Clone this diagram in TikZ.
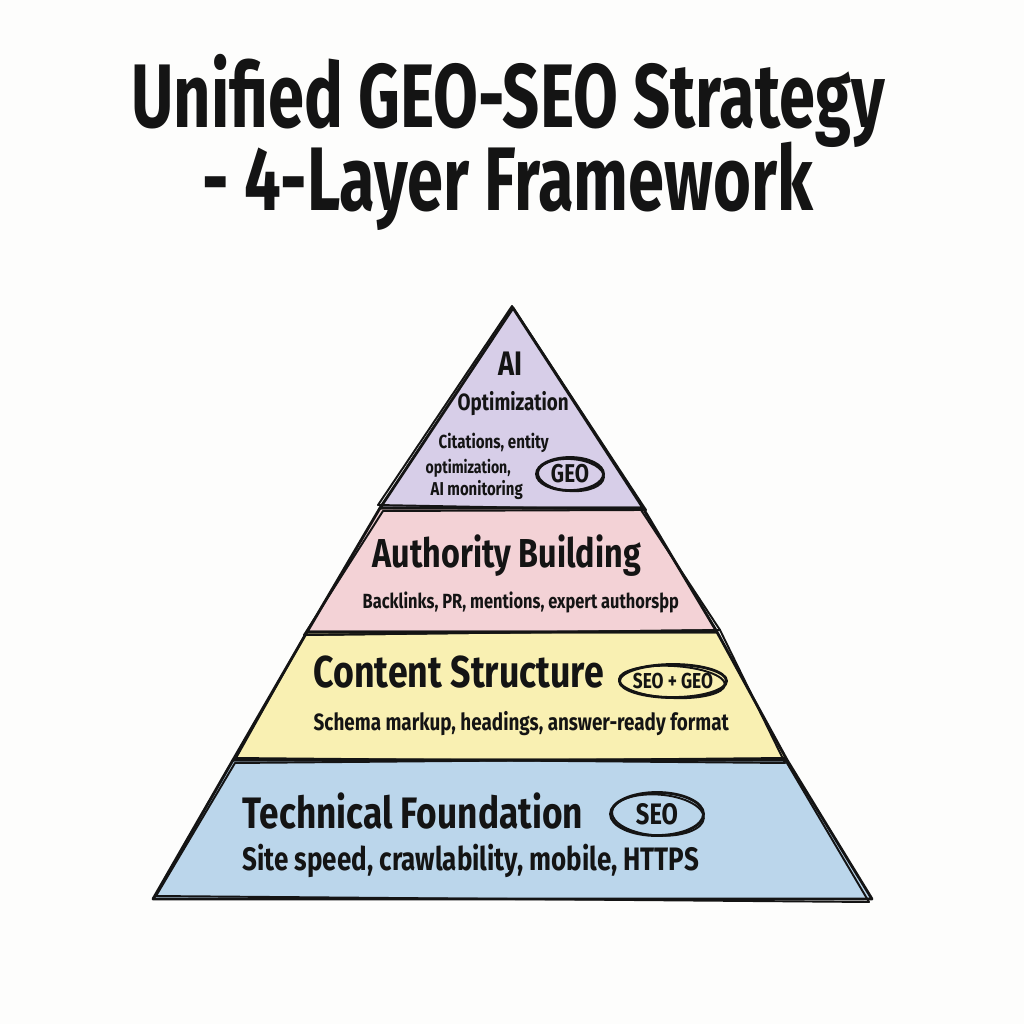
\documentclass[tikz,border=0pt]{standalone}
\usepackage{fontspec}
\usetikzlibrary{shapes.geometric}
\newfontfamily\hand[FakeStretch=0.8]{Fira Sans}
\newfontfamily\handt[FakeStretch=0.72]{Fira Sans}
\newcommand\fitw[2]{\resizebox{#1}{!}{\hand\bfseries #2}}
\newcommand\fitt[2]{\resizebox{#1}{!}{\handt\bfseries #2}}
\newcommand\twolines[2]{\vbox{\baselineskip=0.82cm\lineskiplimit=-100pt\lineskip=0pt\halign{\hfil##\hfil\cr#1\cr#2\cr}}}
\definecolor{bgc}{HTML}{FDFDFC}
\definecolor{cpurple}{HTML}{D7CEE8}
\definecolor{cpink}{HTML}{F3D2D6}
\definecolor{cyellow}{HTML}{F9F0B2}
\definecolor{cblue}{HTML}{BBD6EB}
\definecolor{ink}{HTML}{141414}
\begin{document}
\begin{tikzpicture}[x=0.01cm,y=-0.01cm,
  txt/.style={inner sep=0pt, anchor=base west, text=ink},
  ctxt/.style={inner sep=0pt, anchor=center, text=ink},
  outl/.style={line width=0.8pt, line join=round, line cap=round, draw=ink},
  outlb/.style={line width=0.55pt, line join=round, line cap=round, draw=ink}]
\useasboundingbox[fill=bgc] (0,0) rectangle (1024,1024);

% corners
\coordinate (apex) at (513,308);
\coordinate (l1) at (380,508); \coordinate (r1) at (643,508);
\coordinate (l2) at (307,632); \coordinate (r2) at (717,632);
\coordinate (l3) at (233,760); \coordinate (r3) at (787,760);
\coordinate (l4) at (153,899); \coordinate (r4) at (872,899);

% fills
\fill[cpurple] (apex) -- (r1) -- (l1) -- cycle;
\fill[cpink] (l1) -- (r1) -- (r2) -- (l2) -- cycle;
\fill[cyellow] (l2) -- (r2) -- (r3) -- (l3) -- cycle;
\fill[cblue] (l3) -- (r3) -- (r4) -- (l4) -- cycle;

% sketchy outlines
\draw[outl] (apex) -- (r1) -- (l1) -- cycle;
\draw[outlb] ([shift={(-1,-2)}]apex) -- ([shift={(3,2)}]r1) -- ([shift={(-2,-3)}]l1) -- cycle;
\draw[outl] (l1) -- (r1) -- (r2) -- (l2) -- cycle;
\draw[outlb] ([shift={(3,3)}]l1) -- ([shift={(-2,2)}]r1) -- ([shift={(3,-2)}]r2) -- ([shift={(-3,3)}]l2) -- cycle;
\draw[outl] (l2) -- (r2) -- (r3) -- (l3) -- cycle;
\draw[outlb] ([shift={(-2,3)}]l2) -- ([shift={(3,-2)}]r2) -- ([shift={(-2,3)}]r3) -- ([shift={(3,-2)}]l3) -- cycle;
\draw[outl] (l3) -- (r3) -- (r4) -- (l4) -- cycle;
\draw[outlb] ([shift={(2,3)}]l3) -- ([shift={(-3,-2)}]r3) -- ([shift={(-3,3)}]r4) -- ([shift={(3,-3)}]l4) -- cycle;

% title (two lines in one node)
\node[inner sep=0pt, anchor=base, text=ink] (title) at (508,210)
  {\twolines{\fitt{7.53cm}{Unified GEO-SEO Strategy}}{\fitt{6.10cm}{- 4-Layer Framework}}};

% layer 1
\node[txt] (ai) at (498,375) {\fitw{0.24cm}{AI}};
\node[txt] (opt) at (457,410) {\fitw{1.11cm}{Optimization}};
\node[txt] (cit) at (438,448) {\fitw{1.10cm}{Citations, entity}};
\node[txt] (opt2) at (425,473) {\fitw{0.85cm}{optimization,}};
\node[txt] (aim) at (430,495) {\fitw{0.92cm}{AI monitoring}};
\node[ctxt] (geo) at (570,474) {\fitw{0.38cm}{GEO}};
\draw[outl] (geo.center) ellipse (0.335cm and 0.165cm);
\draw[outlb, rotate around={-4:(geo.center)}] ([shift={(1,1)}]geo.center) ellipse (0.33cm and 0.16cm);

% layer 2
\node[txt] (auth) at (372,567) {\fitw{2.68cm}{Authority Building}};
\node[txt] (back) at (362,608) {\fitw{3.16cm}{Backlinks, PR, mentions, expert authorsþp}};

% layer 3
\node[txt] (cont) at (313,687) {\fitw{2.90cm}{Content Structure}};
\node[ctxt] (sg) at (673,681) {\fitw{0.80cm}{SEO + GEO}};
\draw[outl] (sg.center) ellipse (0.535cm and 0.165cm);
\draw[outlb, rotate around={-3:(sg.center)}] ([shift={(-1,1)}]sg.center) ellipse (0.53cm and 0.16cm);
\node[txt] (sch) at (313,730) {\fitw{4.15cm}{Schema markup, headings, answer-ready format}};

% layer 4
\node[txt] (tech) at (242,828) {\fitw{3.40cm}{Technical Foundation}};
\node[ctxt] (seo) at (657,814) {\fitw{0.42cm}{SEO}};
\draw[outl] (seo.center) ellipse (0.465cm and 0.215cm);
\draw[outlb, rotate around={-4:(seo.center)}] ([shift={(1,1)}]seo.center) ellipse (0.46cm and 0.205cm);
\node[txt] (site) at (242,870) {\fitw{4.56cm}{Site speed, crawlability, mobile, HTTPS}};
\end{tikzpicture}
\end{document}
